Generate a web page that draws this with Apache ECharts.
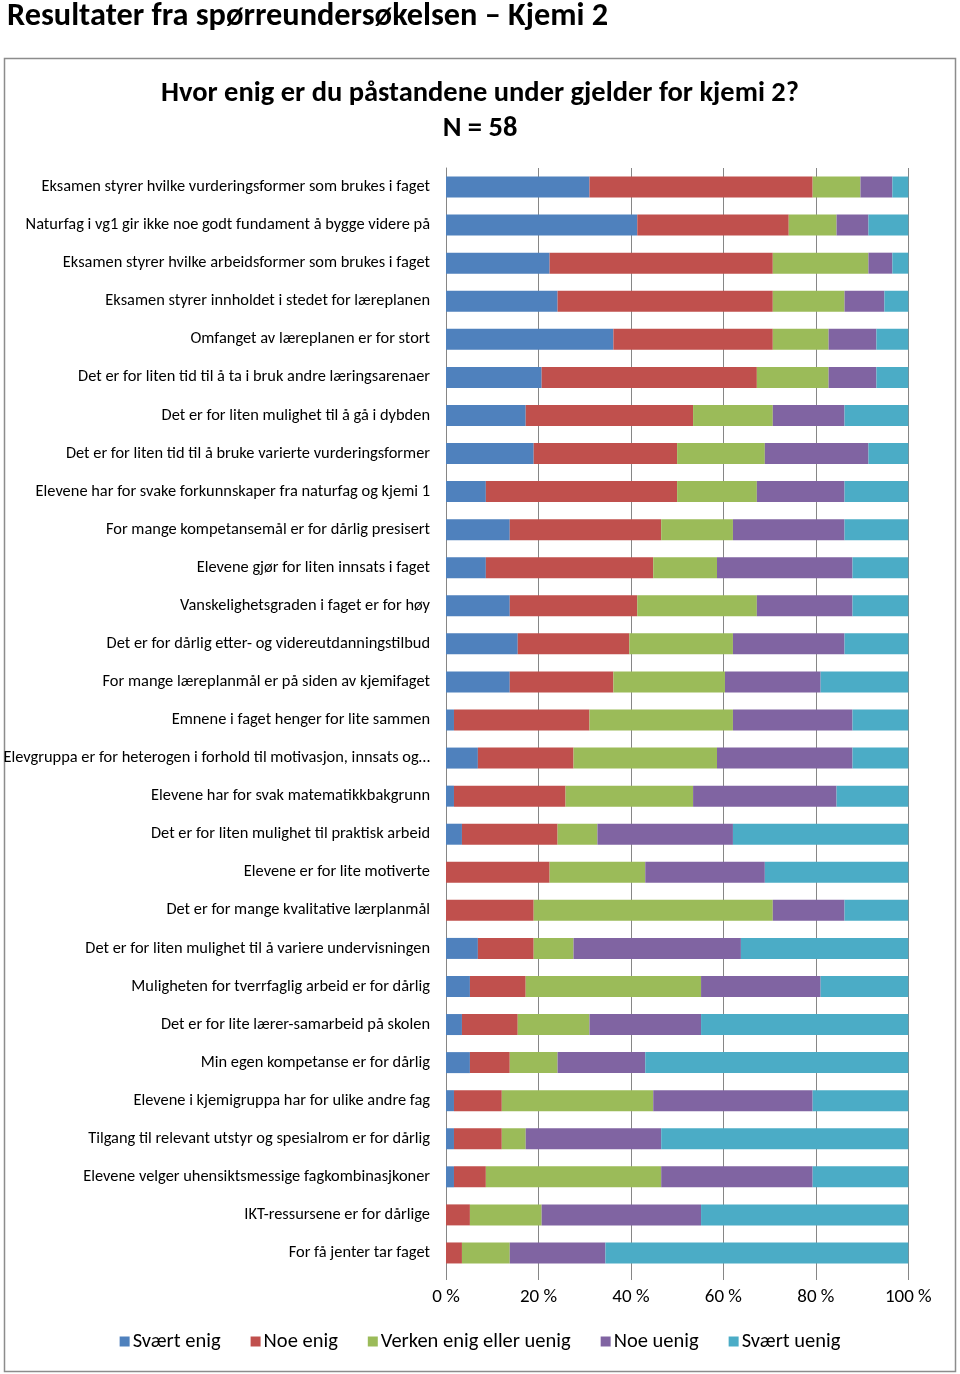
<!DOCTYPE html>
<html>
<head>
<meta charset="utf-8">
<script src="https://cdn.jsdelivr.net/npm/echarts@6/dist/echarts.min.js"></script>
<style>
html,body{margin:0;padding:0;background:#fff;}
#chart{width:960px;height:1374px;}
</style>
</head>
<body>
<div id="chart"></div>
<script>
const categories = [
  "Eksamen styrer hvilke vurderingsformer som brukes i faget",
  "Naturfag i vg1 gir ikke noe godt fundament å bygge videre på",
  "Eksamen styrer hvilke arbeidsformer som brukes i faget",
  "Eksamen styrer innholdet i stedet for læreplanen",
  "Omfanget av læreplanen er for stort",
  "Det er for liten tid til å ta i bruk andre læringsarenaer",
  "Det er for liten mulighet til å gå i dybden",
  "Det er for liten tid til å bruke varierte vurderingsformer",
  "Elevene har for svake forkunnskaper fra naturfag og kjemi 1",
  "For mange kompetansemål er for dårlig presisert",
  "Elevene gjør for liten innsats i faget",
  "Vanskelighetsgraden i faget er for høy",
  "Det er for dårlig etter- og videreutdanningstilbud",
  "For mange læreplanmål er på siden av kjemifaget",
  "Emnene i faget henger for lite sammen",
  "Elevgruppa er for heterogen i forhold til motivasjon, innsats og…",
  "Elevene har for svak matematikkbakgrunn",
  "Det er for liten mulighet til praktisk arbeid",
  "Elevene er for lite motiverte",
  "Det er for mange kvalitative lærplanmål",
  "Det er for liten mulighet til å variere undervisningen",
  "Muligheten for tverrfaglig arbeid er for dårlig",
  "Det er for lite lærer-samarbeid på skolen",
  "Min egen kompetanse er for dårlig",
  "Elevene i kjemigruppa har for ulike andre fag",
  "Tilgang til relevant utstyr og spesialrom er for dårlig",
  "Elevene velger uhensiktsmessige fagkombinasjkoner",
  "IKT-ressursene er for dårlige",
  "For få jenter tar faget"
];

// Antall svar (N = 58) per kategori
const svaertEnig = [18,24,13,14,21,12,10,11,5,8,5,8,9,8,1,4,1,2,0,0,4,3,2,3,1,1,1,0,0];
const noeEnig    = [28,19,28,27,20,27,21,18,24,19,21,16,14,13,17,12,14,12,13,11,7,7,7,5,6,6,4,3,2];
const verken     = [6,6,12,9,7,9,10,11,10,9,8,15,13,14,18,18,16,5,12,30,5,22,9,6,19,3,22,9,6];
const noeUenig   = [4,4,3,5,6,6,9,13,11,14,17,12,14,12,15,17,18,17,15,9,21,15,14,11,20,17,19,20,12];
const svaertUenig= [2,5,2,3,4,4,8,5,8,8,7,7,8,11,7,7,9,22,18,8,21,11,26,33,12,31,12,26,38];

const seriesNames = ["Svært enig","Noe enig","Verken enig eller uenig","Noe uenig","Svært uenig"];
const xTickLabels = ["0 %","20 %","40 %","60 %","80 %","100 %"];
const colors = ["#4F81BD","#C0504D","#9BBB59","#8064A2","#4BACC6"];

const raw = [svaertEnig, noeEnig, verken, noeUenig, svaertUenig];
const totals = categories.map((_, i) => raw.reduce((s, arr) => s + arr[i], 0));
const pct = raw.map(arr => arr.map((v, i) => v / totals[i] * 100));

const FONT = "Carlito, Calibri, Lato, 'Liberation Sans', sans-serif";
const chart = echarts.init(document.getElementById('chart'), null, {renderer:'canvas'});
chart.setOption({
  animation:false,
  color: colors,
  textStyle:{fontFamily:FONT},
  graphic:[
    {type:'rect', shape:{x:4.5,y:58.5,width:951,height:1313}, style:{fill:'none', stroke:'#8c8c8c', lineWidth:1.5}, z:-1}
  ],
  title:[
    {text:"Resultater fra spørreundersøkelsen – Kjemi 2", left:2, top:-4,
     textStyle:{fontFamily:FONT, fontSize:32.3, fontWeight:'bold', color:'#000'}},
    {text:"Hvor enig er du påstandene under gjelder for kjemi 2?", left:'center', top:74,
     textStyle:{fontFamily:FONT, fontSize:28.5, fontWeight:'bold', color:'#000'}},
    {text:"N = 58", left:'center', top:109,
     textStyle:{fontFamily:FONT, fontSize:28.5, fontWeight:'bold', color:'#000'}}
  ],
  legend:{
    bottom:17, left:'center', itemWidth:10, itemHeight:10, itemGap:30, icon:'rect',
    textStyle:{fontFamily:FONT, fontSize:20.5, color:'#000', padding:[0,0,0,-2]},
    data: seriesNames
  },
  grid:{left:446, right:51.7, top:168, bottom:102, containLabel:false},
  xAxis:{
    type:'value', min:0, max:100, interval:20,
    axisLine:{show:false},
    axisTick:{show:true, length:8, lineStyle:{color:'#868686'}},
    splitLine:{show:true, lineStyle:{color:'#868686', width:1}},
    axisLabel:{fontFamily:FONT, fontSize:19, color:'#000', margin:16,
      formatter:(v)=> xTickLabels[Math.round(v/20)]}
  },
  yAxis:{
    type:'category', inverse:true, data:categories,
    axisLine:{show:true, lineStyle:{color:'#868686'}},
    axisTick:{show:false},
    axisLabel:{fontFamily:FONT, fontSize:16.4, color:'#000', margin:16}
  },
  series: seriesNames.map((name, k) => ({
    name, type:'bar', stack:'total', barWidth:21,
    data: pct[k],
    itemStyle:{color:colors[k]}
  }))
});
</script>
</body>
</html>
